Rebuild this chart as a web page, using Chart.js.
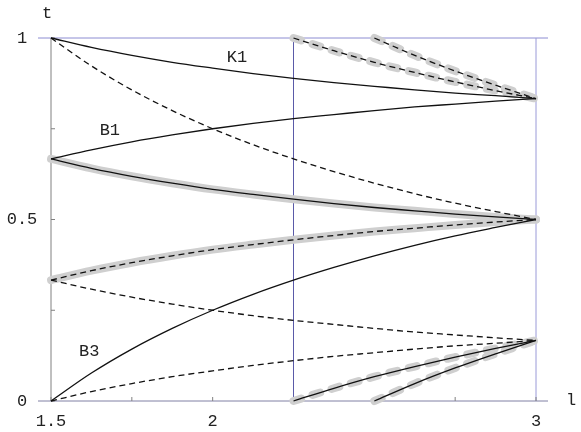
<!DOCTYPE html>
<html>
<head>
<meta charset="utf-8">
<title>t vs l</title>
<style>
body { margin: 0; background: #fff; }
#wrap { width: 581px; height: 432px; position: relative; }
</style>
</head>
<body>
<div id="wrap"><canvas id="tlChart"></canvas></div>
<script src="https://cdn.jsdelivr.net/npm/chart.js@4/dist/chart.umd.min.js"></script>
<script>
// sample points along l
const lFull  = [1.5, 1.625, 1.75, 1.875, 2, 2.125, 2.25, 2.375, 2.5, 2.625, 2.75, 2.875, 3];
const lFrom225 = [2.25, 2.375, 2.5, 2.625, 2.75, 2.875, 3];
const lFrom25  = [2.5, 2.625, 2.75, 2.875, 3];

// solid curves
const curveK1   = [1.000, 0.974, 0.952, 0.933, 0.917, 0.902, 0.889, 0.877, 0.867, 0.857, 0.848, 0.841, 0.833];
const curveB1   = [0.667, 0.692, 0.714, 0.733, 0.750, 0.765, 0.778, 0.789, 0.800, 0.810, 0.818, 0.826, 0.833];
const curveMid  = [0.667, 0.641, 0.619, 0.600, 0.583, 0.569, 0.556, 0.544, 0.533, 0.524, 0.515, 0.507, 0.500]; // highlighted
const curveB3   = [0.000, 0.077, 0.143, 0.200, 0.250, 0.294, 0.333, 0.368, 0.400, 0.429, 0.455, 0.478, 0.500];
// dashed curves
const dashTop   = [1.000, 0.923, 0.857, 0.800, 0.750, 0.706, 0.667, 0.632, 0.600, 0.571, 0.545, 0.522, 0.500];
const dashMid   = [0.333, 0.359, 0.381, 0.400, 0.417, 0.431, 0.444, 0.456, 0.467, 0.476, 0.485, 0.493, 0.500]; // highlighted
const dashLow   = [0.333, 0.308, 0.286, 0.267, 0.250, 0.235, 0.222, 0.211, 0.200, 0.190, 0.182, 0.174, 0.167];
const dashBot   = [0.000, 0.026, 0.048, 0.067, 0.083, 0.098, 0.111, 0.123, 0.133, 0.143, 0.152, 0.159, 0.167];
// short branches on the right
const topBranchA = [1.000, 0.965, 0.933, 0.905, 0.879, 0.855, 0.833];
const topBranchB = [1.000, 0.952, 0.909, 0.870, 0.833];
const botBranchA = [0.000, 0.035, 0.067, 0.095, 0.121, 0.145, 0.167];
const botBranchB = [0.000, 0.048, 0.091, 0.130, 0.167];

// axes
const xTickLabels = ['1.5', '2', '3'];
const xTickValues = [1.5, 2, 3];
const xTicks = [1.5, 1.75, 2, 2.25, 2.5, 2.75, 3];
const yTickLabels = ['0', '0.5', '1'];
const yTickValues = [0, 0.5, 1];
const yTicks = [0, 0.25, 0.5, 0.75, 1];
const curveNames = ['K1', 'B1', 'B3'];
const curveNameL = [2.075, 1.682, 1.618];
const curveNameT = [0.945, 0.744, 0.135];

const FONT = '17px "Liberation Mono", "DejaVu Sans Mono", monospace';
const GREY = '#cfcfcf';

function pts(xs, ys){
    return xs.map((x, i) => ({x: x, y: ys[i]}));
}

function blackLine(xs, ys, dashed){
    return {
        data: pts(xs, ys),
        borderColor: '#111',
        borderWidth: 1.3,
        borderDash: dashed ? [6, 4] : [],
        order: 0
    };
}

function greyBand(xs, ys, dashed){
    return {
        data: pts(xs, ys),
        borderColor: GREY,
        borderWidth: 8,
        borderCapStyle: 'round',
        borderDash: dashed ? [8, 12] : [],
        order: 10
    };
}

// frame, ticks and labels drawn with the scales
const framePlugin = {
    id: 'frame',
    beforeDatasetsDraw(chart){
        const c = chart.ctx;
        const xs = chart.scales.x, ys = chart.scales.y;
        const X = v => xs.getPixelForValue(v);
        const Y = v => ys.getPixelForValue(v);
        const left = chart.chartArea.left, right = chart.chartArea.right;
        c.save();
        c.lineWidth = 1;
        const seg = (x1, y1, x2, y2, col) => {
            c.strokeStyle = col;
            c.beginPath();
            c.moveTo(x1, y1);
            c.lineTo(x2, y2);
            c.stroke();
        };
        // blue frame
        seg(left, Y(1), right, Y(1), '#8c8cd2');
        seg(X(3), Y(1), X(3), Y(0), '#9a9ad8');
        seg(X(2.25), Y(1), X(2.25), Y(0), '#5a5aa8');
        // axes
        seg(X(1.5), Y(1), X(1.5), Y(0), '#808080');
        seg(left, Y(0), right, Y(0), '#8080a4');
        xTicks.forEach(v => seg(X(v), Y(0), X(v), Y(0) - 4, '#808080'));
        yTicks.forEach(v => seg(X(1.5), Y(v), X(1.5) + 4, Y(v), '#808080'));

        c.fillStyle = '#222';
        c.font = FONT;
        c.textAlign = 'center';
        c.textBaseline = 'middle';
        xTickValues.forEach((v, i) => c.fillText(xTickLabels[i], X(v), Y(0) + 20));
        yTickValues.forEach((v, i) => c.fillText(yTickLabels[i], X(1.5) - 29, Y(v)));
        c.fillText('t', X(1.5) - 4, Y(1) - 25);
        c.fillText('l', right + 23, Y(0) - 1);
        curveNames.forEach((n, i) => c.fillText(n, X(curveNameL[i]), Y(curveNameT[i])));
        c.restore();
    }
};

function setupChart(){
    const ctx = document.getElementById('tlChart').getContext('2d');
    const config = {
        type: 'line',
        data: {
            datasets: [
                blackLine(lFull, curveK1, false),
                blackLine(lFull, curveB1, false),
                blackLine(lFull, curveMid, false),
                blackLine(lFull, curveB3, false),
                blackLine(lFull, dashTop, true),
                blackLine(lFull, dashMid, true),
                blackLine(lFull, dashLow, true),
                blackLine(lFull, dashBot, true),
                blackLine(lFrom225, topBranchA, true),
                blackLine(lFrom25, topBranchB, true),
                blackLine(lFrom225, botBranchA, false),
                blackLine(lFrom25, botBranchB, false),
                greyBand(lFull, curveMid, false),
                greyBand(lFull, dashMid, false),
                greyBand(lFrom225, topBranchA, true),
                greyBand(lFrom25, topBranchB, true),
                greyBand(lFrom225, botBranchA, true),
                greyBand(lFrom25, botBranchB, true)
            ]
        },
        options: {
            responsive: true,
            maintainAspectRatio: false,
            animation: false,
            layout: { padding: { left: 38, right: 33, top: 38, bottom: 31 } },
            elements: {
                point: { radius: 0 },
                line: { cubicInterpolationMode: 'monotone', fill: false }
            },
            datasets: { line: { clip: false } },
            scales: {
                x: { type: 'linear', min: 1.45979, max: 3.03711, display: false },
                y: { type: 'linear', min: 0, max: 1, display: false }
            },
            plugins: {
                legend: { display: false },
                tooltip: { enabled: false }
            }
        },
        plugins: [framePlugin]
    };
    return new Chart(ctx, config);
}

setupChart();
</script>
</body>
</html>
